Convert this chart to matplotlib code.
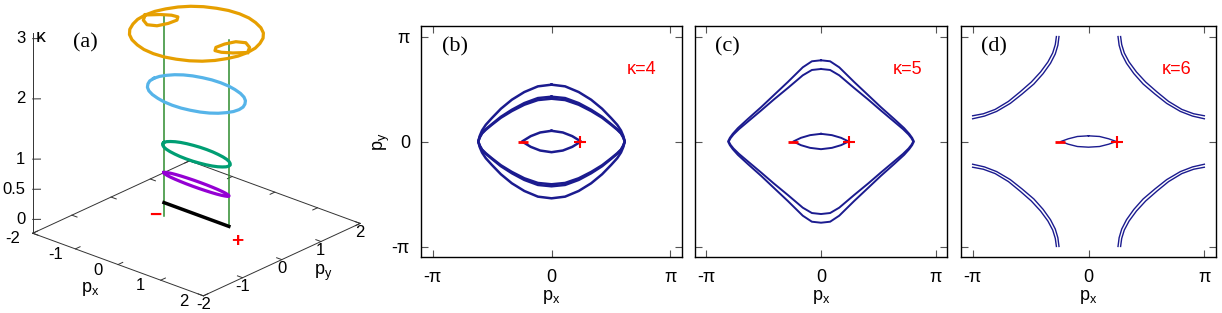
import numpy as np
import matplotlib.pyplot as plt
from mpl_toolkits.mplot3d import proj3d

plt.rcParams['font.family'] = ['Liberation Sans', 'DejaVu Sans']

# ---------------- data ----------------
# Weyl node positions (p_x), p_y = 0
node_px = [-0.76, 0.76]

# panel (a): loops at several kappa values (upper half of a unit loop,
# scaled per kappa below)
loop_px = [-1.0, -0.98, -0.92, -0.83, -0.71, -0.56, -0.38, -0.2, 0.0,
           0.2, 0.38, 0.56, 0.71, 0.83, 0.92, 0.98, 1.0]
loop_py = [0.0, 0.2, 0.38, 0.56, 0.71, 0.83, 0.92, 0.98, 1.0,
           0.98, 0.92, 0.83, 0.71, 0.56, 0.38, 0.2, 0.0]
a_kappa = [0.5, 1.0, 2.0, 3.0]
a_half_px = [0.76, 0.76, 1.0, 1.2]
a_half_py = [0.10, 0.26, 0.62, 1.1]
a_colors = ['#9400D3', '#009E73', '#56B4E9', '#E69F00']
hook_px = [-1.2, -1.02, -0.85, -0.72, -0.64, -0.66, -0.74, -0.90, -1.08, -1.2]
hook_py = [0.0, 0.18, 0.29, 0.31, 0.20, 0.0, -0.20, -0.28, -0.18, 0.0]
line_top = 3.1
a_ticks = [-2, -1, 0, 1, 2]
k_ticks = [0, 0.5, 1, 2, 3]
k_tick_labels = ['0', '0.5', '1', '2', '3']

# panel (b) kappa=4, upper right quarter curves
b_outer_px = [0.0, 0.36, 0.72, 1.05, 1.34, 1.58, 1.74, 1.84, 1.90, 1.94]
b_outer_py = [1.70, 1.65, 1.48, 1.25, 0.98, 0.70, 0.50, 0.33, 0.17, 0.0]
b_mid1_py = [1.34, 1.30, 1.15, 0.95, 0.74, 0.52, 0.37, 0.25, 0.13, 0.0]
b_mid2_py = [1.28, 1.24, 1.10, 0.91, 0.71, 0.50, 0.35, 0.24, 0.12, 0.0]
b_lens_px = [0.0, 0.3, 0.55, 0.78]
b_lens_py = [0.32, 0.27, 0.16, 0.0]

# panel (c) kappa=5
c_px = [0.0, 0.25, 0.5, 0.91, 1.3, 1.64, 2.0, 2.28, 2.42, 2.50, 2.55]
c_outer_py = [2.43, 2.40, 2.22, 1.78, 1.38, 1.03, 0.68, 0.40, 0.23, 0.11, 0.0]
c_inner_px = [0.0, 0.25, 0.5, 0.91, 1.3, 1.64, 2.0, 2.25, 2.40, 2.48, 2.53]
c_inner_py = [2.17, 2.14, 1.98, 1.60, 1.25, 0.93, 0.60, 0.37, 0.21, 0.10, 0.0]
c_lens_px = [0.0, 0.3, 0.55, 0.76]
c_lens_py = [0.23, 0.19, 0.11, 0.0]

# panel (d) kappa=6, upper right arcs
d_outer_px = [0.87, 0.90, 0.97, 1.10, 1.30, 1.55, 1.86, 2.17, 2.53, 2.85, 3.14]
d_outer_py = [3.14, 2.90, 2.65, 2.38, 2.08, 1.78, 1.48, 1.20, 0.96, 0.83, 0.77]
d_inner_px = [0.80, 0.83, 0.90, 1.03, 1.23, 1.48, 1.80, 2.12, 2.49, 2.82, 3.14]
d_inner_py = [3.14, 2.88, 2.62, 2.34, 2.03, 1.72, 1.42, 1.14, 0.90, 0.76, 0.68]
d_lens_px = [0.0, 0.3, 0.55, 0.75]
d_lens_py = [0.17, 0.15, 0.08, 0.0]

kappas = [4, 5, 6]
ticks = [-np.pi, 0, np.pi]
tick_labels = ['-π', '0', 'π']

NAVY = '#1b1b8f'
SERIF = 'Liberation Serif'
GR = '#333333'


def closed_loop(qx, qy):
    """Build a closed loop from an upper-right quarter (top -> right end)."""
    qx = np.asarray(qx, float)
    qy = np.asarray(qy, float)
    x = np.concatenate([qx, qx[::-1], -qx, -qx[::-1]])
    y = np.concatenate([qy, -qy[::-1], -qy, qy[::-1]])
    return x, y


def four_arcs(ax, qx, qy, **kw):
    qx = np.asarray(qx, float)
    qy = np.asarray(qy, float)
    for sx in (1, -1):
        for sy in (1, -1):
            ax.plot(sx * qx, sy * qy, **kw)


fig = plt.figure(figsize=(12.22, 3.13), dpi=100)

# ---------------- panel (a) ----------------
ax3 = fig.add_axes([-0.018, -0.0386, 0.349, 1.226], projection='3d')
ax3.set_proj_type('ortho')
ax3.view_init(elev=24.3, azim=-48.3)
zmin = -0.23
ax3.set_xlim(-2, 2)
ax3.set_ylim(-2, 2)
ax3.set_zlim(zmin, 3.1)
ax3.set_box_aspect((1, 1.031, 0.963))
ax3.set_axis_off()

edge = [-2, 2, 2, -2, -2]
ax3.plot(edge, [-2, -2, 2, 2, -2], [zmin] * 5, color=GR, lw=0.7)
ax3.plot([-2, -2], [-2, -2], [zmin, 3.1], color=GR, lw=0.7)
labels3d = []
for v in a_ticks:
    ax3.plot([v, v], [-2, -1.88], [zmin, zmin], color=GR, lw=0.7)
    ax3.plot([v, v], [2, 1.88], [zmin, zmin], color=GR, lw=0.7)
    ax3.plot([2, 1.88], [v, v], [zmin, zmin], color=GR, lw=0.7)
    ax3.plot([-2, -1.88], [v, v], [zmin, zmin], color=GR, lw=0.7)
    labels3d.append((v - 0.1, -2.4, zmin, str(v), dict(ha='center')))
    labels3d.append((2.2, v - 0.22, zmin - 0.03, str(v), dict(ha='center')))
for z, lab in zip(k_ticks, k_tick_labels):
    ax3.plot([-2, -1.9], [-2, -1.91], [z, z], color=GR, lw=0.7)
    labels3d.append((-2.1, -2.08, z, lab, dict(ha='right')))

# vertical node lines
ax3.plot([node_px[0]] * 2, [0, 0], [zmin, line_top], color='#2e8b2e', lw=1.1)
ax3.plot([node_px[1]] * 2, [0, 0], [0, line_top], color='#2e8b2e', lw=1.1)
# kappa = 0 : arc between nodes
ax3.plot(node_px, [0, 0], [0, 0], color='black', lw=2.5)
lx = np.asarray(loop_px)
ly = np.asarray(loop_py)
for k, hx, hy, c in zip(a_kappa, a_half_px, a_half_py, a_colors):
    xs = np.concatenate([lx, lx[::-1]]) * hx
    ys = np.concatenate([ly, -ly[::-1]]) * hy
    ax3.plot(xs, ys, np.full_like(xs, k), color=c, lw=2.3)
hx_ = np.asarray(hook_px)
hy_ = np.asarray(hook_py)
ax3.plot(hx_, hy_, np.full_like(hx_, 3.0), color=a_colors[3], lw=2.3)
ax3.plot(-hx_, -hy_, np.full_like(hx_, 3.0), color=a_colors[3], lw=2.3)
red_kw = dict(color='red', fontsize=15, fontweight='bold')
labels3d.append((node_px[0] - 0.05, 0, zmin, '−', dict(ha='right', **red_kw)))
labels3d.append((node_px[1] + 0.05, 0, zmin, '+', dict(ha='left', **red_kw)))

fig.text(36 / 1222, 1 - 37 / 313, 'κ', fontsize=14, ha='left', va='center')
fig.text(85 / 1222, 1 - 43 / 313, '(a)', fontsize=16, family=SERIF,
         ha='center', va='center')
fig.text(90 / 1222, 1 - 289 / 313, r'p$_\mathregular{x}$', fontsize=13,
         ha='center', va='center')
fig.text(323 / 1222, 1 - 273 / 313, r'p$_\mathregular{y}$', fontsize=13,
         ha='center', va='center')

# ---------------- panels (b)-(d) ----------------
boxes = [(421, 682), (695, 947), (961, 1216)]
axes = []
for i, (l, r) in enumerate(boxes):
    ax = fig.add_axes([l / 1222, 1 - 257 / 313, (r - l) / 1222, 231 / 313])
    lim = 1.1 * np.pi
    ax.set_xlim(-lim, lim)
    ax.set_ylim(-lim, lim)
    ax.set_xticks(ticks)
    ax.set_yticks(ticks)
    ax.set_xticklabels(tick_labels, fontsize=13)
    if i == 0:
        ax.set_yticklabels(tick_labels, fontsize=13)
        ax.set_ylabel(r'p$_\mathregular{y}$', fontsize=13, labelpad=0)
    else:
        ax.set_yticklabels([])
    ax.set_xlabel(r'p$_\mathregular{x}$', fontsize=13, labelpad=1)
    ax.tick_params(direction='in', length=5, width=0.8, top=True, right=True,
                   color='#555555')
    ax.tick_params(axis='x', pad=9)
    ax.tick_params(axis='y', pad=8)
    for s in ax.spines.values():
        s.set_linewidth(1.0)
    ax.text(0.08, 0.95, '(' + 'bcd'[i] + ')', transform=ax.transAxes,
            fontsize=16, family=SERIF, ha='left', va='top')
    ax.text(0.845, 0.81, 'κ=%d' % kappas[i], transform=ax.transAxes,
            fontsize=13, color='red', ha='center', va='center')
    axes.append(ax)

axb, axc, axd = axes
for qy in (b_outer_py, b_mid1_py, b_mid2_py):
    axb.plot(*closed_loop(b_outer_px, qy), color=NAVY, lw=1.8)
axb.plot(*closed_loop(b_lens_px, b_lens_py), color=NAVY, lw=1.8)

axc.plot(*closed_loop(c_px, c_outer_py), color=NAVY, lw=1.4)
axc.plot(*closed_loop(c_inner_px, c_inner_py), color=NAVY, lw=1.4)
axc.plot(*closed_loop(c_lens_px, c_lens_py), color=NAVY, lw=1.4)

four_arcs(axd, d_outer_px, d_outer_py, color=NAVY, lw=1.0)
four_arcs(axd, d_inner_px, d_inner_py, color=NAVY, lw=1.0)
axd.plot(*closed_loop(d_lens_px, d_lens_py), color=NAVY, lw=1.0)

for ax in axes:
    ax.plot([node_px[0]], [0], marker='_', color='red', ms=7, mew=2)
    ax.plot([node_px[1]], [0], marker='+', color='red', ms=9, mew=1.5)

# place the 3D tick labels at their projected positions
fig.canvas.draw()
for x, y, z, s, kw in labels3d:
    x2, y2, _ = proj3d.proj_transform(x, y, z, ax3.M)
    kw.setdefault('fontsize', 12)
    ax3.text2D(x2, y2, s, transform=ax3.transData, va='center', **kw)

fig.savefig('out.png', dpi=100)
